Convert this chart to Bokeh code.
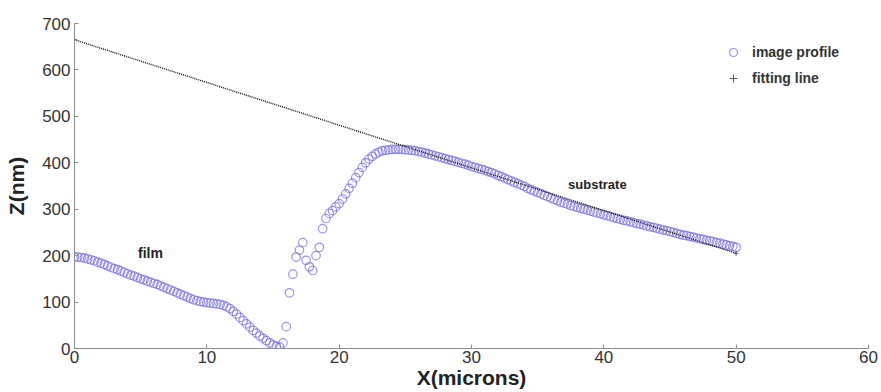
import numpy as np
from bokeh.plotting import figure
from bokeh.models import (ColumnDataSource, Range1d, FixedTicker, Label,
                          Legend, LegendItem)
from bokeh.embed import file_html
from bokeh.resources import INLINE

# ---------------- data ----------------
# sample positions of the measured profile (microns), 0.25 micron spacing
profile_x = np.arange(0, 50.001, 0.25)
# measured height (nm), 4 samples per micron
profile_z = [
    197, 197, 196, 195,   # 0
    193, 191, 189, 186,   # 1
    184, 181, 178, 175,   # 2
    172, 170, 167, 164,   # 3
    161, 158, 156, 153,   # 4
    150, 148, 145, 143,   # 5
    140, 138, 135, 132,   # 6
    129, 126, 123, 120,   # 7
    117, 114, 111, 108,   # 8
    105, 103, 101, 100,   # 9
    99, 98, 97, 96,       # 10
    95, 93, 90, 86,       # 11
    80, 74, 67, 60,       # 12
    53, 46, 39, 33,       # 13
    27, 22, 17, 12,       # 14
    8, 5, 3, 12,          # 15
    47, 120, 160, 197,    # 16
    212, 228, 190, 176,   # 17
    168, 200, 218, 258,   # 18
    280, 291, 297, 305,   # 19
    312, 322, 333, 345,   # 20
    356, 368, 379, 390,   # 21
    400, 408, 414, 419,   # 22
    423, 426, 427, 428,   # 23
    429, 429, 429, 429,   # 24
    428, 428, 427, 426,   # 25
    424, 423, 421, 419,   # 26
    417, 415, 413, 411,   # 27
    409, 407, 405, 403,   # 28
    401, 399, 397, 395,   # 29
    392, 390, 388, 386,   # 30
    384, 381, 379, 376,   # 31
    373, 370, 367, 364,   # 32
    361, 358, 355, 352,   # 33
    349, 345, 342, 339,   # 34
    336, 333, 330, 327,   # 35
    324, 321, 318, 315,   # 36
    313, 311, 308, 306,   # 37
    304, 302, 300, 298,   # 38
    296, 294, 292, 290,   # 39
    288, 286, 284, 282,   # 40
    280, 278, 276, 275,   # 41
    273, 271, 269, 268,   # 42
    266, 264, 262, 261,   # 43
    259, 257, 255, 254,   # 44
    252, 250, 248, 246,   # 45
    244, 243, 241, 240,   # 46
    238, 236, 235, 233,   # 47
    232, 230, 228, 227,   # 48
    225, 223, 221, 220,   # 49
    218,                  # 50
]

# fitted substrate line (end points)
fit_x = [0, 50]
fit_z = [665, 205]

x_ticks = [0, 10, 20, 30, 40, 50, 60]
y_ticks = [0, 100, 200, 300, 400, 500, 600, 700]

# ---------------- figure ----------------
p = figure(width=881, height=392, x_range=Range1d(0, 60), y_range=Range1d(0, 700),
           output_backend="svg", toolbar_location=None,
           min_border_left=74, min_border_right=13, min_border_top=23,
           min_border_bottom=44)
p.outline_line_color = None
p.xgrid.visible = False
p.ygrid.visible = False
p.background_fill_color = "white"
p.border_fill_color = "white"

p.xaxis.ticker = FixedTicker(ticks=x_ticks)
p.yaxis.ticker = FixedTicker(ticks=y_ticks)
for ax in (p.xaxis[0], p.yaxis[0]):
    ax.axis_line_color = "#8c8c8c"
    ax.major_tick_line_color = "#8c8c8c"
    ax.major_tick_in = 4
    ax.major_tick_out = 0
    ax.minor_tick_line_color = None
    ax.major_label_text_font = "Liberation Sans"
    ax.major_label_text_font_size = "17px"
    ax.major_label_text_color = "#333333"
    ax.axis_label_text_font = "Liberation Sans"
    ax.axis_label_text_font_size = "21px"
    ax.axis_label_text_font_style = "bold"
    ax.axis_label_text_color = "#222222"

p.xaxis.axis_label = "X(microns)"
p.yaxis.axis_label = "Z(nm)"
p.xaxis.major_label_standoff = 2
p.xaxis.axis_label_standoff = 0
p.yaxis.major_label_standoff = 4
p.yaxis.axis_label_standoff = 11

src = ColumnDataSource(data=dict(x=profile_x, y=profile_z))
r_prof = p.scatter("x", "y", source=src, marker="circle", size=8.5,
                   fill_color=None, line_color="#6f66de", line_alpha=0.7,
                   line_width=1.2)

fit_src = ColumnDataSource(data=dict(x=fit_x, y=fit_z))
p.line("x", "y", source=fit_src, line_color="#111111", line_width=1.4,
       line_dash="1 1")
r_fit_leg = p.scatter("x", "y", source=fit_src, marker="cross", size=5,
                      line_color="#555555", line_width=1)

legend = Legend(items=[LegendItem(label="image profile", renderers=[r_prof]),
                       LegendItem(label="fitting line", renderers=[r_fit_leg])],
                location=(649, 260))
legend.background_fill_alpha = 0
legend.border_line_alpha = 0
legend.padding = 0
legend.margin = 0
legend.spacing = 6
legend.label_height = 20
legend.glyph_height = 20
legend.glyph_width = 20
legend.label_standoff = 9
legend.label_text_font = "Liberation Sans"
legend.label_text_font_size = "14px"
legend.label_text_font_style = "bold"
legend.label_text_color = "#333333"
p.add_layout(legend)

for txt, x, y, size in [("film", 4.8, 205, "14px"), ("substrate", 37.3, 353, "13px")]:
    p.add_layout(Label(x=x, y=y, text=txt, text_font="Liberation Sans",
                       text_font_size=size, text_font_style="bold",
                       text_color="#222222", text_baseline="alphabetic"))

open("out.html", "w").write(file_html(p, INLINE))
